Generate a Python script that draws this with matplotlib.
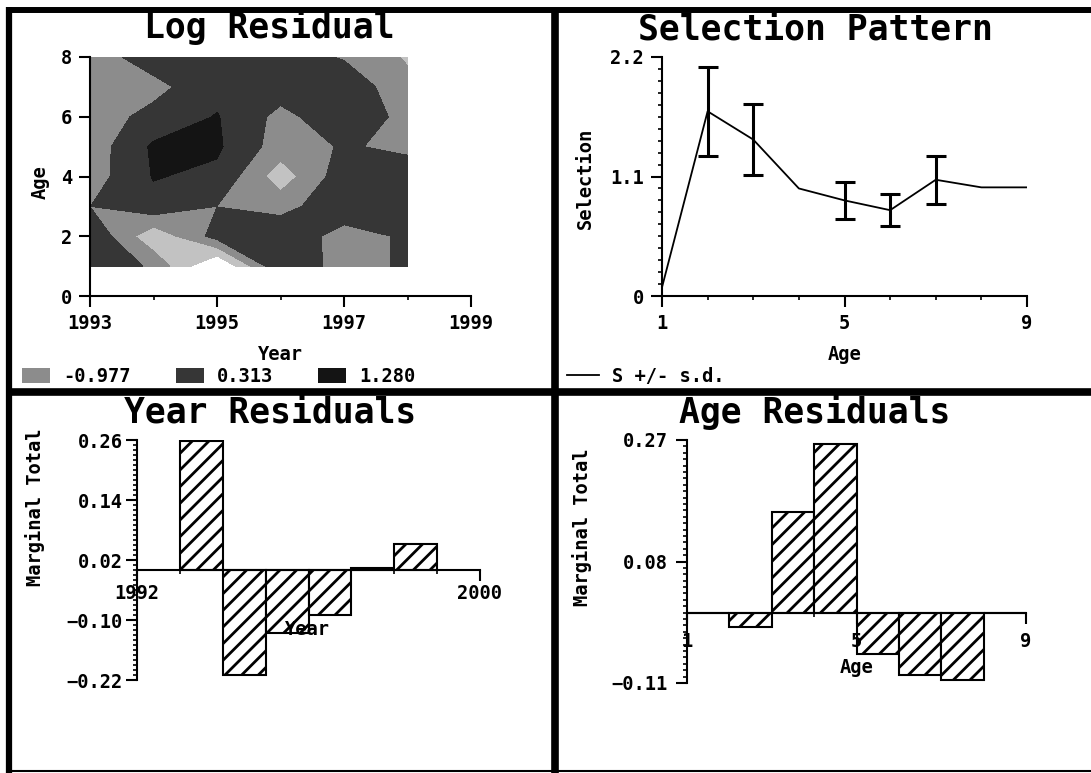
import numpy as np
import matplotlib
matplotlib.use("Agg")
import matplotlib.pyplot as plt
from matplotlib.patches import Patch
from matplotlib.lines import Line2D
from matplotlib.ticker import MultipleLocator

res_years = [1993, 1994, 1995, 1996, 1997, 1998]
res_ages = [1, 2, 3, 4, 5, 6, 7, 8]
# log residuals, one row per age (1..8), one column per year
log_resid = [
    [0.96, -0.59, -4.50, 1.00, -1.00, -0.08],
    [0.83, -2.60, 0.18, 0.83, -0.98, -0.10],
    [-0.34, 0.57, -0.34, -0.85, 0.70, 0.57],
    [-0.98, 1.08, 0.70, -2.30, 0.44, 0.31],
    [-1.11, 1.21, 1.21, -0.98, -0.21, -0.59],
    [-0.98, 0.05, 1.08, -0.72, 0.57, -0.72],
    [-0.98, -0.72, 0.57, 0.31, 0.57, -1.24],
    [-0.98, 0.31, 0.31, 0.31, -0.45, -1.75],
]
res_levels = [-6.0, -2.9, -1.60, -0.33, 1.00, 2.0]
res_shades = ["white", "#c2c2c2", "#8c8c8c", "#363636", "#141414"]
res_legend = ["-0.977", "0.313", "1.280"]

sel_ages = [1, 2, 3, 4, 5, 6, 7, 8, 9]
selection = [0.08, 1.70, 1.44, 0.99, 0.88, 0.79, 1.07, 1.00, 1.00]
sd_ages = [2, 3, 5, 6, 7]
sd_vals = [0.41, 0.33, 0.17, 0.15, 0.22]

yr_years = [1993, 1994, 1995, 1996, 1997, 1998]
yr_resid = [0.259, -0.209, -0.125, -0.089, 0.004, 0.053]
yr_ticks = [-0.22, -0.10, 0.02, 0.14, 0.26]

age_ages = [1, 2, 3, 4, 5, 6, 7, 8]
age_resid = [0.0, -0.023, 0.158, 0.263, -0.064, -0.097, -0.105, 0.0]
age_ticks = [-0.11, 0.08, 0.27]

# ---- look ----
plt.rcParams["font.family"] = ["DejaVu Sans Mono"]
plt.rcParams["font.weight"] = "bold"
plt.rcParams["axes.labelweight"] = "bold"
plt.rcParams["hatch.linewidth"] = 2.0
FS = 13.5
TFS = 25

W, H = 1091, 773
fig = plt.figure(figsize=(W / 100, H / 100), dpi=100)


def box(x0, y0, x1, y1):
    return [x0 / W, 1 - y1 / H, (x1 - x0) / W, (y1 - y0) / H]


def fx(x, y):
    return x / W, 1 - y / H


def style(ax, pad):
    ax.set_facecolor("none")
    ax.spines["top"].set_visible(False)
    ax.spines["right"].set_visible(False)
    for s in ("left", "bottom"):
        ax.spines[s].set_linewidth(1.5)
    ax.tick_params(which="major", direction="out", length=8, width=1.5,
                   labelsize=FS, pad=pad)
    ax.tick_params(which="minor", direction="out", length=3, width=1.2)


def minus(v, fmt):
    return fmt.format(v).replace("-", "\u2212")


# ---- Log Residual ----
ax1 = fig.add_axes(box(90, 57, 471, 296))
style(ax1, 5)
ax1.contourf(res_years, res_ages, np.array(log_resid), levels=res_levels,
             colors=res_shades)
ax1.set_xlim(1993, 1999)
ax1.set_ylim(0, 8)
ax1.set_xticks([1993, 1995, 1997, 1999])
ax1.xaxis.set_minor_locator(MultipleLocator(1))
ax1.set_yticks([0, 2, 4, 6, 8])
ax1.set_xlabel("Year", fontsize=FS)
ax1.set_ylabel("Age", fontsize=FS)
ax1.xaxis.set_label_coords(0.499, -0.205)
ax1.yaxis.set_label_coords(-0.105, 0.477)
handles = [Patch(facecolor=c, edgecolor="none") for c in res_shades[2:]]
ax1.legend(handles, res_legend, loc="lower left",
           bbox_to_anchor=fx(22, 386), bbox_transform=fig.transFigure,
           ncol=3, frameon=False, fontsize=FS, handlelength=1.5,
           handleheight=0.8, handletextpad=0.7, columnspacing=2.4,
           borderpad=0, borderaxespad=0)

# ---- Selection Pattern ----
ax2 = fig.add_axes(box(662, 57, 1027, 296))
style(ax2, 5)
ax2.plot(sel_ages, selection, color="k", lw=1.3)
sel_at = np.array(selection)[np.array(sd_ages) - 1]
ax2.errorbar(sd_ages, sel_at, yerr=sd_vals, fmt="none", ecolor="k",
             elinewidth=2.2, capsize=7, capthick=2.2)
ax2.set_xlim(1, 9)
ax2.set_ylim(0, 2.2)
ax2.set_xticks([1, 5, 9])
ax2.xaxis.set_minor_locator(MultipleLocator(1))
ax2.set_yticks([0, 1.1, 2.2], ["0", "1.1", "2.2"])
ax2.yaxis.set_minor_locator(MultipleLocator(0.11))
ax2.set_xlabel("Age", fontsize=FS)
ax2.set_ylabel("Selection", fontsize=FS)
ax2.xaxis.set_label_coords(0.499, -0.205)
ax2.yaxis.set_label_coords(-0.184, 0.494)
ax2.legend([Line2D([], [], color="k", lw=1.3)], ["S +/- s.d."],
           loc="lower left", bbox_to_anchor=fx(567, 386),
           bbox_transform=fig.transFigure, frameon=False, fontsize=FS,
           handlelength=1.7, handletextpad=0.7, borderpad=0, borderaxespad=0)

# ---- Year Residuals ----
ax3 = fig.add_axes(box(137, 440, 480, 680))
style(ax3, 2)
ax3.bar(yr_years, yr_resid, width=1, align="edge", facecolor="white",
        edgecolor="k", hatch="//", lw=1.5)
ax3.spines["bottom"].set_position(("data", 0))
ax3.set_xlim(1992, 2000)
ax3.set_ylim(-0.22, 0.26)
ax3.set_xticks([1992, 2000])
ax3.xaxis.set_minor_locator(MultipleLocator(1))
ax3.set_yticks(yr_ticks, [minus(v, "{:.2f}") for v in yr_ticks])
ax3.yaxis.set_minor_locator(MultipleLocator(0.01))
ax3.set_xlabel("Year", fontsize=FS)
ax3.set_ylabel("Marginal Total", fontsize=FS)
ax3.xaxis.set_label_coords(0.496, 0.25)
ax3.yaxis.set_label_coords(-0.268, 0.72)

# ---- Age Residuals ----
ax4 = fig.add_axes(box(687, 440, 1026, 683))
style(ax4, 6)
ax4.bar(age_ages, age_resid, width=1, align="edge", facecolor="white",
        edgecolor="k", hatch="//", lw=1.5)
ax4.spines["bottom"].set_position(("data", 0))
ax4.set_xlim(1, 9)
ax4.set_ylim(-0.11, 0.27)
ax4.set_xticks([1, 5, 9])
ax4.xaxis.set_minor_locator(MultipleLocator(1))
ax4.set_yticks(age_ticks, [minus(v, "{:.2f}") for v in age_ticks])
ax4.yaxis.set_minor_locator(MultipleLocator(0.01))
ax4.set_xlabel("Age", fontsize=FS)
ax4.set_ylabel("Marginal Total", fontsize=FS)
ax4.xaxis.set_label_coords(0.501, 0.103)
ax4.yaxis.set_label_coords(-0.28, 0.642)

# ---- panel titles ----
for label, (x, y) in [("Log Residual", (269, 38)),
                      ("Selection Pattern", (815, 39)),
                      ("Year Residuals", (270, 423)),
                      ("Age Residuals", (815, 423))]:
    fig.text(*fx(x, y), label, ha="center", va="baseline", fontsize=TFS,
             fontweight="bold")

# ---- screen frame ----
for (x0, y0), (x1, y1), lw in [((9, 10), (1091, 10), 4.3),
                               ((9, 7), (9, 773), 4.5),
                               ((555, 10), (555, 773), 5.5),
                               ((9, 392), (1091, 392), 5.5),
                               ((9, 771), (1091, 771), 1.5)]:
    a, b = fx(x0, y0)
    c, d = fx(x1, y1)
    fig.add_artist(Line2D([a, c], [b, d], color="k", lw=lw,
                          solid_capstyle="butt", transform=fig.transFigure))

fig.savefig("out.png", dpi=100)
